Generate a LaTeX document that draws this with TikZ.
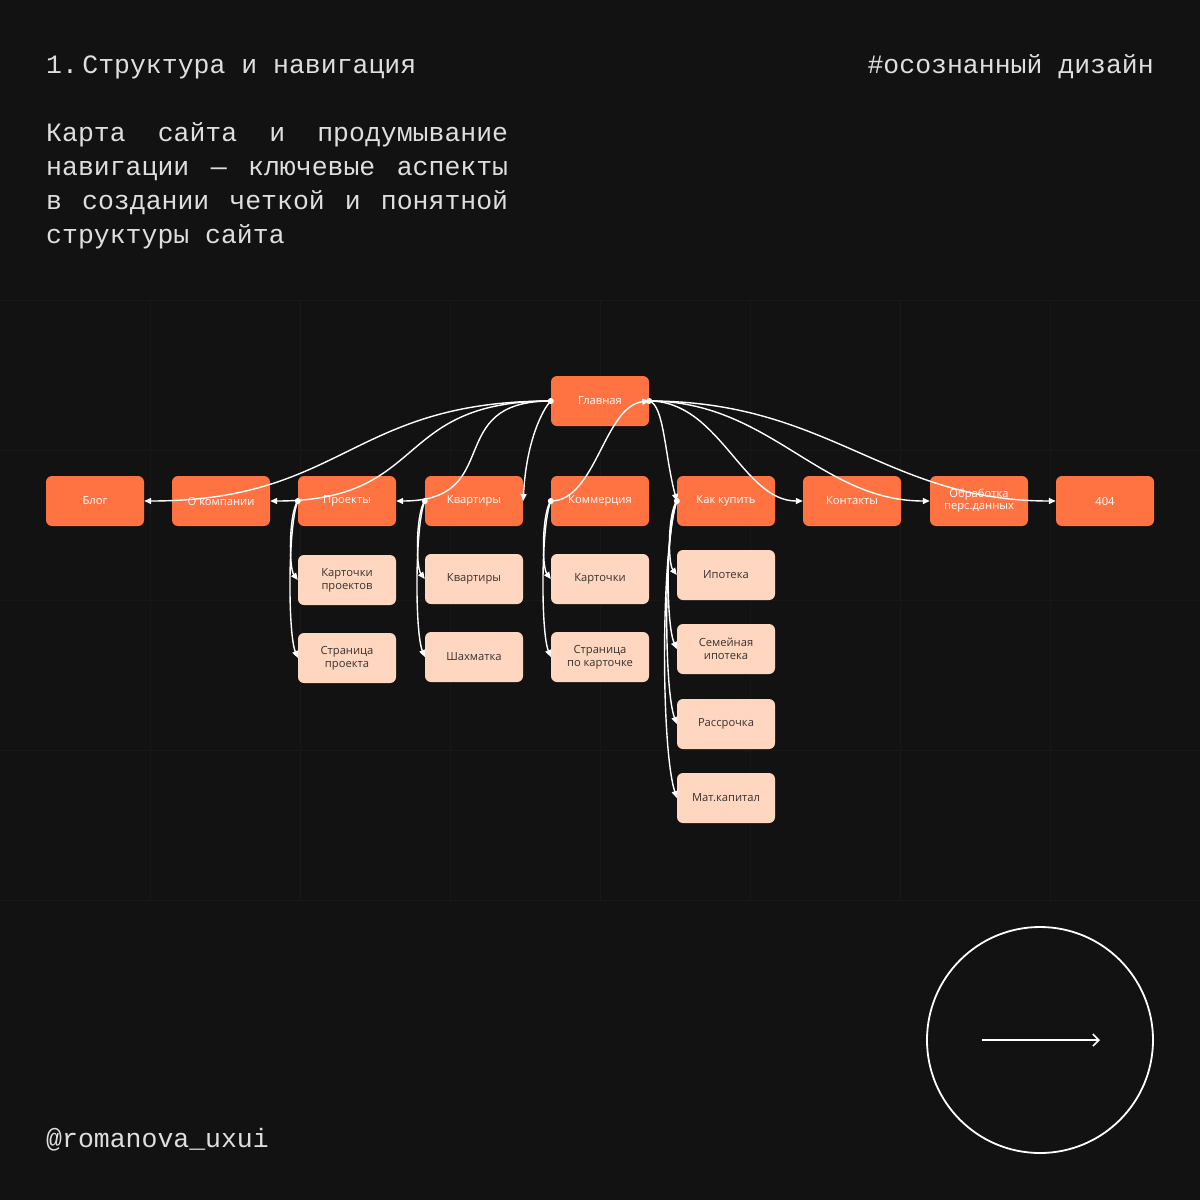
\documentclass[tikz,border=0pt]{standalone}
\usepackage{fontspec}
\setmainfont{Open Sans}
\newfontfamily\monof{Liberation Mono}
\usetikzlibrary{arrows.meta}
\definecolor{bg}{HTML}{121212}
\definecolor{gridc}{HTML}{181818}
\definecolor{orng}{HTML}{FF7343}
\definecolor{peach}{HTML}{FFD6BF}
\definecolor{darktxt}{HTML}{3A3330}
\definecolor{wtxt}{HTML}{DEDEDE}
\tikzset{
  mainbox/.style={fill=orng, rounded corners=6pt, minimum width=98pt, minimum height=50pt,
    inner sep=1pt, text=white, font=\fontsize{11.2}{12}\selectfont, align=center},
  subbox/.style={fill=peach, rounded corners=6pt, minimum width=98pt, minimum height=50pt,
    inner sep=1pt, text=darktxt, font=\fontsize{11.2}{13}\selectfont, align=center},
  conn/.style={draw=white, line width=1.4pt, -{Triangle[length=7pt,width=6pt]}},
  headtxt/.style={inner sep=0pt, text=wtxt, font=\monof\fontsize{26.5}{30}\selectfont},
}
\begin{document}
\begin{tikzpicture}[x=1pt,y=-1pt]
\fill[bg] (0,0) rectangle (1200,1200);
\useasboundingbox (0,0) rectangle (1200,1200);
% faint background grid
\foreach \yy in {300,450,600,750,900} {\draw[gridc, line width=1pt] (0,\yy) -- (1200,\yy);}
\foreach \xx in {150,300,450,600,750,900,1050} {\draw[gridc, line width=1pt] (\xx,300) -- (\xx,900);}

% header texts
\node[headtxt, anchor=base west] (title) at (46,73) {1.\,Структура и навигация};
\node[headtxt, anchor=base east] (tag) at (1154,73) {\#осознанный дизайн};
\node[headtxt, anchor=base west] (p1) at (46,141) {\makebox[462pt][s]{Карта сайта и продумывание}};
\node[headtxt, anchor=base west] (p2) at (46,175) {\makebox[462pt][s]{навигации — ключевые аспекты}};
\node[headtxt, anchor=base west] (p3) at (46,209) {\makebox[462pt][s]{в создании четкой и понятной}};
\node[headtxt, anchor=base west] (p4) at (46,243) {структуры сайта};
\node[headtxt, anchor=base west] (handle) at (46,1147) {@romanova\_uxui};

% nodes
\node[mainbox] (glav) at (600,401) {Главная};
\node[mainbox] (blog) at (95,501) {Блог};
\node[mainbox] (komp) at (221,501) {О компании};
\node[mainbox] (proj) at (347,501) {Проекты};
\node[mainbox] (kvar) at (474,501) {Квартиры};
\node[mainbox] (comm) at (600,501) {Коммерция};
\node[mainbox] (kak) at (726,501) {Как купить};
\node[mainbox] (kont) at (852,501) {Контакты};
\node[mainbox] (obr) at (979,501) {Обработка\\перс.данных};
\node[mainbox] (e404) at (1105,501) {404};

\node[subbox] (kproj) at (347,580) {Карточки\\проектов};
\node[subbox] (sproj) at (347,658) {Страница\\проекта};
\node[subbox] (kvar2) at (474,579) {Квартиры};
\node[subbox] (shah) at (474,657) {Шахматка};
\node[subbox] (kart) at (600,579) {Карточки};
\node[subbox] (skart) at (600,657) {Страница\\по карточке};
\node[subbox] (ipot) at (726,575) {Ипотека};
\node[subbox] (semip) at (726,649) {Семейная\\ипотека};
\node[subbox] (rass) at (726,724) {Рассрочка};
\node[subbox] (matk) at (726,798) {Мат.капитал};

% connectors from Главная (left side)
\draw[conn] (glav.west) .. controls +(-200,0) and +(200,0) .. (blog.east);
\draw[conn] (glav.west) .. controls +(-160,0) and +(160,0) .. (komp.east);
\draw[conn] (glav.west) .. controls +(-110,0) and +(110,0) .. (proj.east);
\draw[conn] (glav.west) .. controls +(-8,8) and +(3,-60) .. (kvar.east);
% right side
\draw[conn] (comm.west) .. controls +(45,0) and +(-45,5) .. (glav.east);
\draw[conn] (glav.east) .. controls +(15,4) and +(-12,-45) .. (kak.west);
\draw[conn] (glav.east) .. controls +(70,0) and +(-60,0) .. (kont.west);
\draw[conn] (glav.east) .. controls +(120,0) and +(-110,0) .. (obr.west);
\draw[conn] (glav.east) .. controls +(180,0) and +(-170,0) .. (e404.west);

% children
\draw[conn] (proj.west) .. controls +(-9,12) and +(-9,-12) .. (kproj.west);
\draw[conn] (proj.west) .. controls +(-10,25) and +(-10,-25) .. (sproj.west);
\draw[conn] (kvar.west) .. controls +(-9,12) and +(-9,-12) .. (kvar2.west);
\draw[conn] (kvar.west) .. controls +(-10,25) and +(-10,-25) .. (shah.west);
\draw[conn] (comm.west) .. controls +(-9,12) and +(-9,-12) .. (kart.west);
\draw[conn] (comm.west) .. controls +(-10,25) and +(-10,-25) .. (skart.west);
\draw[conn] (kak.west) .. controls +(-9,12) and +(-9,-12) .. (ipot.west);
\draw[conn] (kak.west) .. controls +(-11,25) and +(-11,-25) .. (semip.west);
\draw[conn] (kak.west) .. controls +(-13,35) and +(-13,-35) .. (rass.west);
\draw[conn] (kak.west) .. controls +(-16,50) and +(-16,-50) .. (matk.west);

% start dots
\foreach \n in {glav.west, glav.east, proj.west, kvar.west, comm.west, kak.west}
  {\fill[white] (\n) circle (3pt);}

% circle with arrow
\node[draw=white, line width=1.8pt, circle, minimum size=226pt, inner sep=0pt] (circ) at (1040,1040) {};
\coordinate (arS) at (982,1040);
\coordinate (arE) at (1100,1040);
\draw[white, line width=1.6pt, -{Straight Barb[length=6pt,width=12pt]}] (arS) -- (arE);
\end{tikzpicture}
\end{document}
